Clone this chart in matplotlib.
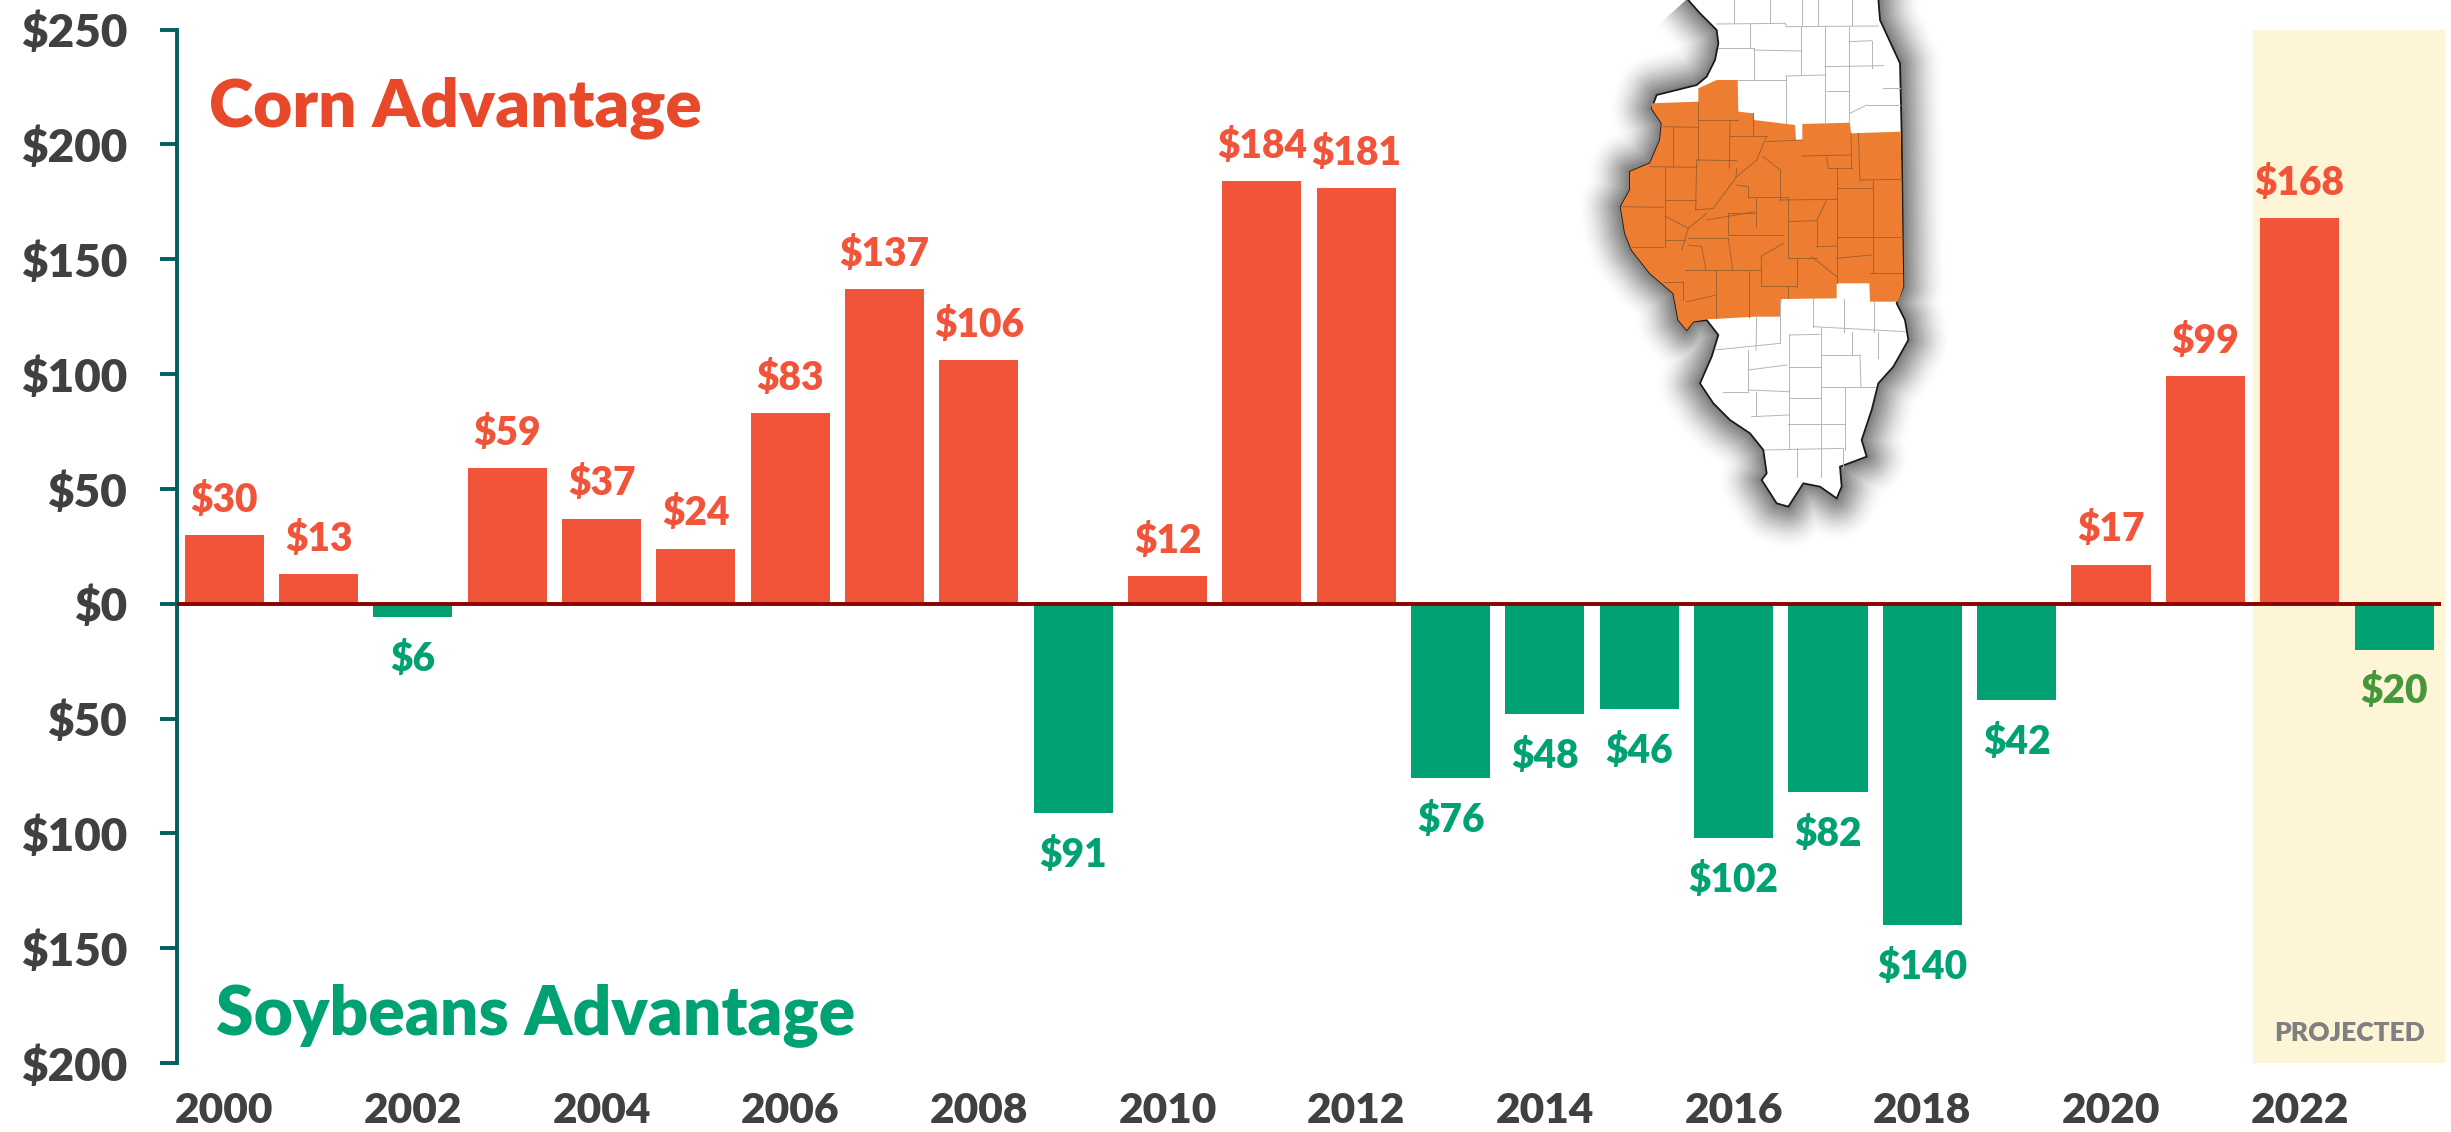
import numpy as np
import matplotlib
matplotlib.use("Agg")
import matplotlib.pyplot as plt

plt.rcParams['font.family'] = ['Lato', 'DejaVu Sans']

years = list(range(2000, 2024))
values = [30, 13, -6, 59, 37, 24, 83, 137, 106, -91, 12, 184, 181,
          -76, -48, -46, -102, -82, -140, -42, 17, 99, 168, -20]
yticks = [-200, -150, -100, -50, 0, 50, 100, 150, 200, 250]

# illinois map, traced in zoomed pixels (zoom origin x=1550, y=0, 3x)
state = [(410,-5),(450,40),(500,90),(505,130),(495,180),(470,230),(440,255),(380,270),(320,285),(305,325),
         (335,370),(330,420),(300,490),(240,515),(240,570),(212,620),(225,700),(245,750),(300,820),(370,880),
         (385,960),(410,990),(430,965),(470,960),(505,1005),(485,1070),(450,1150),(490,1210),(540,1260),
         (600,1300),(640,1350),(650,1420),(635,1440),(680,1510),(715,1520),(760,1450),(810,1460),(860,1495),
         (875,1460),(870,1400),(950,1370),(935,1320),(965,1230),(985,1150),(1030,1100),(1075,1020),(1065,960),
         (1040,910),(1060,860),(1055,400),(1050,190),(990,60),(985,-5)]
region = [(305,310),(445,305),(445,265),(500,240),(563,240),(565,335),(610,340),(612,360),(735,375),(738,420),
          (757,420),(757,372),(900,368),(903,400),(1052,395),(1060,860),(1045,905),(960,905),(958,850),(860,850),
          (860,895),(695,897),(690,950),(620,950),(470,958),(430,965),(410,990),(385,960),(370,880),(300,820),
          (245,750),(225,700),(212,620),(240,570),(240,515),(300,490),(330,420),(335,370),(305,325)]
white_lines = [(552,0,552,70),(660,0,660,70),(755,0,755,75),(805,0,805,75),(905,0,905,75),(500,72,705,70),
               (705,70,710,80),(710,80,985,78),(600,70,600,140),(505,143,610,143),(612,150,752,153),(752,80,752,225),
               (825,80,825,365),(897,80,897,370),(612,143,612,240),(707,228,825,225),(707,228,707,370),(825,200,1000,197),
               (830,272,897,272),(897,125,965,122),(965,122,965,205),(1000,265,1050,265),(950,315,1050,315),(950,315,900,340),
               (565,240,707,240),(690,897,690,1030),(790,897,790,980),(883,897,883,995),(973,905,973,995),(790,980,1065,995),
               (620,950,618,1050),(495,1050,690,1030),(595,1050,595,1175),(718,1005,718,1345),(718,1005,810,1003),
               (812,980,812,1430),(905,995,905,1065),(812,1065,930,1065),(930,1065,933,1160),(983,995,983,1075),
               (718,1100,812,1100),(812,1160,975,1160),(885,1160,885,1350),(718,1195,812,1195),(595,1170,715,1175),
               (520,1175,595,1175),(618,1175,618,1245),(605,1250,715,1245),(715,1272,885,1272),(645,1350,880,1345),
               (740,1345,740,1430),(880,1345,880,1400),(595,1110,710,1095)]
orange_lines = [(340,380,445,382),(445,305,445,480),(445,360,565,360),(368,382,368,500),(300,500,440,502),(440,480,560,482),
                (345,500,345,740),(440,480,437,630),(345,600,437,600),(215,620,340,622),(245,742,340,742),(540,360,538,505),
                (538,408,650,408),(610,340,610,408),(650,408,620,480),(620,480,560,530),(560,505,558,530),(560,530,490,625),
                (437,630,490,625),(650,425,757,420),(757,468,900,465),(830,470,835,505),(835,505,905,505),(903,400,905,505),
                (925,400,930,540),(930,540,1055,538),(860,505,860,850),(690,510,690,600),(690,600,860,598),(860,565,970,565),
                (970,540,970,820),(860,710,1055,710),(860,775,965,765),(960,820,1055,820),(640,470,690,510),(595,560,595,590),
                (595,590,715,590),(560,555,595,560),(715,590,715,775),(618,590,618,680),(715,665,800,662),(800,662,830,600),
                (800,662,800,740),(800,740,860,738),(785,770,860,830),(715,775,800,775),(740,775,740,860),(632,858,740,858),
                (632,770,632,858),(632,770,700,730),(535,705,700,705),(535,640,615,640),(535,640,535,705),(470,660,615,635),
                (415,685,470,640),(415,685,395,750),(345,648,415,685),(345,720,405,720),(415,715,535,715),(535,715,548,810),
                (405,810,630,810),(400,845,400,900),(410,905,500,885),(498,810,498,955),(597,810,597,950),(340,845,400,845),
                (715,860,715,895),(455,740,468,810),(415,735,455,740)]

W, H = 2451, 1132
red = "#F15439"
green = "#00A173"
dark = "#404040"
teal = "#00605F"

fig = plt.figure(figsize=(W/100, H/100), dpi=100)

# map lives in its own pixel axes
mp = fig.add_axes([0, 0, 1, 1], zorder=0)
mp.set_xlim(0, W)
mp.set_ylim(H, 0)
mp.axis("off")
def to_px(pts):
    return [(1550 + x/3, y/3) for x, y in pts]
sx, sy = zip(*to_px(state))
for w in range(60, 2, -2):
    mp.fill(sx, sy, facecolor="none", edgecolor="k", lw=w, alpha=0.004 + 0.0006*(60 - w), joinstyle="round")
mp.fill(sx, sy, facecolor="white", edgecolor="#1a1a1a", lw=1.3)
for x0, y0, x1, y1 in white_lines:
    mp.plot([1550 + x0/3, 1550 + x1/3], [y0/3, y1/3], color="#b4b4bc", lw=0.7)
rx, ry = zip(*to_px(region))
mp.fill(rx, ry, facecolor="#ED7D31", edgecolor="none")
for x0, y0, x1, y1 in orange_lines:
    mp.plot([1550 + x0/3, 1550 + x1/3], [y0/3, y1/3], color="#A5622E", lw=0.7)

# main chart
top_px, bot_px = 29.5, 1063
ax = fig.add_axes([177/W, 1 - bot_px/H, (2445-177)/W, (bot_px-top_px)/H], zorder=1)
ax.patch.set_alpha(0)
x = np.arange(len(years))
ax.set_xlim(-0.5, 23.54)
ax.set_ylim(-200, 250)

ax.axvspan(21.5, 23.54, color="#FEF5D6", lw=0, zorder=0)
colors = [red if v > 0 else green for v in values]
ax.bar(x, values, width=0.838, color=colors, zorder=2)
ax.plot([-0.5, 23.5], [0, 0], color="#8B0000", lw=2.8, zorder=3, solid_capstyle="butt", clip_on=False)

for i, v in zip(x, values):
    c = red if v > 0 else green
    if years[i] == 2023:
        c = "#46963C"
    off = 25 if v > 0 else -30.5
    ax.annotate("${}".format(abs(v)), (i, v), xytext=(0, off), textcoords="offset points",
                ha="center", va="center", fontsize=28, fontweight="heavy", color=c)

ax.set_yticks(yticks)
ax.set_yticklabels(["${}".format(abs(t)) for t in yticks])
ax.set_xticks(x[::2])
ax.set_xticklabels([str(y) for y in years[::2]])
ax.tick_params(axis="y", length=12, width=2.8, color=teal, pad=24, labelsize=33, labelcolor=dark)
ax.tick_params(axis="x", length=0, pad=21, labelsize=30.5, labelcolor=dark)
for t in ax.get_yticklabels() + ax.get_xticklabels():
    t.set_fontweight("heavy")

for s in ["top", "right", "bottom"]:
    ax.spines[s].set_visible(False)
ax.spines["left"].set_color(teal)
ax.spines["left"].set_linewidth(2.8)

px_per_dollar = (bot_px - top_px) / 450
ax.text((134*W/1568 - 177)/94.3 - 0.5, 250 - (66*W/1568 + 5 - top_px)/px_per_dollar, "Corn Advantage",
        color="#E8492B", fontsize=48.5, fontweight="heavy", ha="left", va="center")
ax.text((138*W/1568 - 177)/94.3 - 0.5, 250 - (646*W/1568 + 5 - top_px)/px_per_dollar, "Soybeans Advantage",
        color=green, fontsize=48.8, fontweight="heavy", ha="left", va="center")
ax.text(22.53, -187, "PROJECTED", color="#808080", fontsize=19, fontweight="heavy", ha="center", va="center")

fig.savefig("out.png", dpi=100)
